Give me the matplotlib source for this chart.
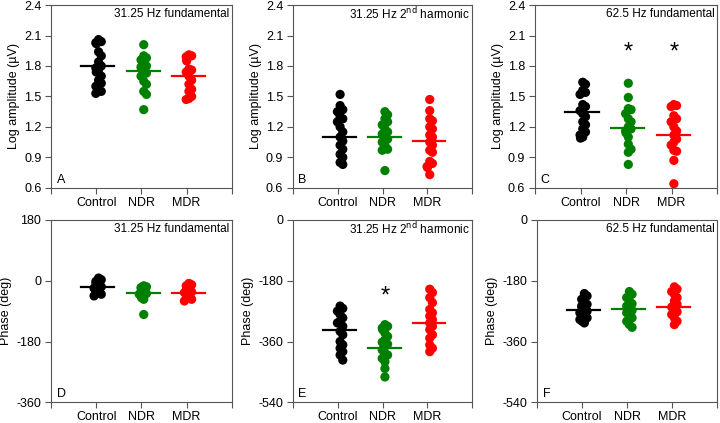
import matplotlib
matplotlib.use('Agg')
import matplotlib.pyplot as plt
import numpy as np

plt.rcParams['font.family'] = ['Liberation Sans', 'DejaVu Sans']

groups = ["Control", "NDR", "MDR"]
colors = ["black", "#008000", "#ff0000"]

# panel A: 31.25 Hz fundamental, log amplitude
a_control = [2.06, 2.04, 2.03, 2.02, 1.94, 1.90, 1.84, 1.80, 1.78, 1.76, 1.74, 1.70, 1.66, 1.63, 1.60, 1.57, 1.55, 1.53]
a_ndr = [2.01, 1.90, 1.88, 1.86, 1.82, 1.80, 1.79, 1.78, 1.77, 1.75, 1.73, 1.70, 1.65, 1.62, 1.55, 1.52, 1.37]
a_mdr = [1.91, 1.90, 1.89, 1.88, 1.85, 1.77, 1.76, 1.74, 1.70, 1.66, 1.62, 1.57, 1.55, 1.50, 1.48, 1.47]
a_means = [1.80, 1.75, 1.70]

# panel B: 31.25 Hz 2nd harmonic, log amplitude
b_control = [1.52, 1.41, 1.37, 1.35, 1.30, 1.28, 1.25, 1.20, 1.15, 1.10, 1.06, 1.02, 0.98, 0.93, 0.90, 0.85, 0.83]
b_ndr = [1.35, 1.32, 1.28, 1.25, 1.22, 1.18, 1.15, 1.13, 1.12, 1.10, 1.08, 1.05, 1.02, 0.98, 0.97, 0.77]
b_mdr = [1.47, 1.36, 1.28, 1.26, 1.20, 1.18, 1.12, 1.10, 1.05, 1.02, 0.97, 0.95, 0.86, 0.84, 0.81, 0.80, 0.73]
b_means = [1.10, 1.10, 1.06]

# panel C: 62.5 Hz fundamental, log amplitude
c_control = [1.64, 1.62, 1.56, 1.54, 1.52, 1.42, 1.40, 1.36, 1.33, 1.30, 1.25, 1.22, 1.18, 1.15, 1.12, 1.10, 1.09]
c_ndr = [1.63, 1.49, 1.38, 1.37, 1.33, 1.28, 1.25, 1.20, 1.18, 1.16, 1.14, 1.10, 1.03, 0.98, 0.95, 0.83]
c_mdr = [1.42, 1.41, 1.40, 1.31, 1.28, 1.25, 1.20, 1.16, 1.12, 1.08, 1.05, 1.02, 0.97, 0.96, 0.87, 0.64]
c_means = [1.345, 1.19, 1.12]

# panel D: 31.25 Hz fundamental, phase
d_control = [8, 3, -2, -5, -8, -10, -12, -15, -18, -20, -22, -25, -28, -32, -35, -40, -45]
d_ndr = [-15, -18, -20, -22, -25, -28, -30, -32, -35, -38, -40, -45, -50, -55, -100]
d_mdr = [-8, -12, -15, -20, -25, -28, -30, -33, -35, -38, -40, -43, -45, -50, -55, -60]
d_means = [-19, -37, -35]

# panel E: 31.25 Hz 2nd harmonic, phase
e_control = [-255, -262, -270, -280, -290, -300, -305, -315, -330, -340, -360, -370, -380, -390, -400, -415]
e_ndr = [-310, -315, -320, -325, -335, -345, -355, -362, -368, -375, -385, -395, -400, -410, -420, -440, -465]
e_mdr = [-205, -215, -230, -245, -265, -275, -285, -295, -305, -315, -325, -340, -350, -370, -380, -390]
e_means = [-326, -380, -306]

# panel F: 62.5 Hz fundamental, phase
f_control = [-218, -225, -235, -245, -250, -255, -260, -265, -270, -275, -280, -285, -290, -295, -300, -305]
f_ndr = [-212, -220, -230, -240, -248, -255, -262, -268, -275, -282, -290, -300, -310, -318]
f_mdr = [-198, -205, -212, -220, -230, -240, -250, -258, -265, -272, -280, -290, -300, -310]
f_means = [-267, -264, -257]

panels = [
    ("A", "31.25 Hz fundamental", [a_control, a_ndr, a_mdr], a_means, "amp", [], None),
    ("B", "31.25 Hz 2$^{\\mathrm{nd}}$ harmonic", [b_control, b_ndr, b_mdr], b_means, "amp", [], None),
    ("C", "62.5 Hz fundamental", [c_control, c_ndr, c_mdr], c_means, "amp", [2, 3], 1.93),
    ("D", "31.25 Hz fundamental", [d_control, d_ndr, d_mdr], d_means, "ph180", [], None),
    ("E", "31.25 Hz 2$^{\\mathrm{nd}}$ harmonic", [e_control, e_ndr, e_mdr], e_means, "ph0", [2], -228),
    ("F", "62.5 Hz fundamental", [f_control, f_ndr, f_mdr], f_means, "ph0", [], None),
]

boxes = [
    [0.071, 0.556, 0.251, 0.432],
    [0.407, 0.556, 0.249, 0.432],
    [0.743, 0.556, 0.253, 0.432],
    [0.071, 0.049, 0.251, 0.431],
    [0.407, 0.049, 0.249, 0.431],
    [0.746, 0.049, 0.250, 0.431],
]

fig = plt.figure(figsize=(7.2, 4.23), dpi=100)


def swarm(vals, span):
    # simple beeswarm offsets so dots don't pile up
    order = np.argsort(vals)[::-1]
    placed = []
    offs = np.zeros(len(vals))
    cands = [0.05, 0.11, -0.01, 0.15, -0.05]
    thr = 0.035 * span
    for k in order:
        for c in cands:
            ok = True
            for (v, o) in placed:
                if abs(v - vals[k]) < thr and abs(o - c) < 0.05:
                    ok = False
                    break
            if ok:
                offs[k] = c
                break
        placed.append((vals[k], offs[k]))
    return offs


for box, (letter, title, data, means, kind, stars, star_y) in zip(boxes, panels):
    ax = fig.add_axes(box)
    if kind == "amp":
        ylim = (0.6, 2.4)
        yticks = np.arange(0.6, 2.41, 0.3)
        ylabels = [f"{t:.1f}" for t in yticks]
        ylabel = "Log amplitude (\u00b5V)"
    elif kind == "ph180":
        ylim = (-360, 180)
        yticks = [-360, -180, 0, 180]
        ylabels = [str(t) for t in yticks]
        ylabel = "Phase (deg)"
    else:
        ylim = (-540, 0)
        yticks = [-540, -360, -180, 0]
        ylabels = [str(t) for t in yticks]
        ylabel = "Phase (deg)"
    span = ylim[1] - ylim[0]

    for i, (vals, m, col) in enumerate(zip(data, means, colors)):
        x = i + 1
        vals = np.array(vals, dtype=float)
        offs = swarm(vals, span)
        ax.scatter(x + offs, vals, s=44, color=col, edgecolors='none', zorder=3)
        ax.plot([x - 0.33, x + 0.40], [m, m], color=col, lw=1.6, zorder=4)

    for s in stars:
        ax.text(s + 0.05, star_y, "*", ha='center', va='center', fontsize=17)

    ax.set_xlim(0, 4)
    ax.set_ylim(*ylim)
    ax.set_xticks([0, 1, 2, 3, 4])
    ax.set_xticklabels(["", "Control", "NDR", "MDR", ""], fontsize=9)
    ax.set_yticks(yticks)
    ax.set_yticklabels(ylabels, fontsize=9)
    ax.set_ylabel(ylabel, fontsize=9, labelpad=3)
    ax.tick_params(direction='out', length=4, width=0.8, color='#555555')
    ax.tick_params(axis='x', pad=2.5)
    ax.tick_params(axis='y', pad=3)
    for sp in ax.spines.values():
        sp.set_color('#555555')
        sp.set_linewidth(0.8)
    ax.text(0.985, 0.95, title, transform=ax.transAxes, ha='right', va='center', fontsize=8.5)
    ax.text(0.03, 0.045, letter, transform=ax.transAxes, ha='left', va='center', fontsize=9)

fig.savefig("out.png", dpi=100)
